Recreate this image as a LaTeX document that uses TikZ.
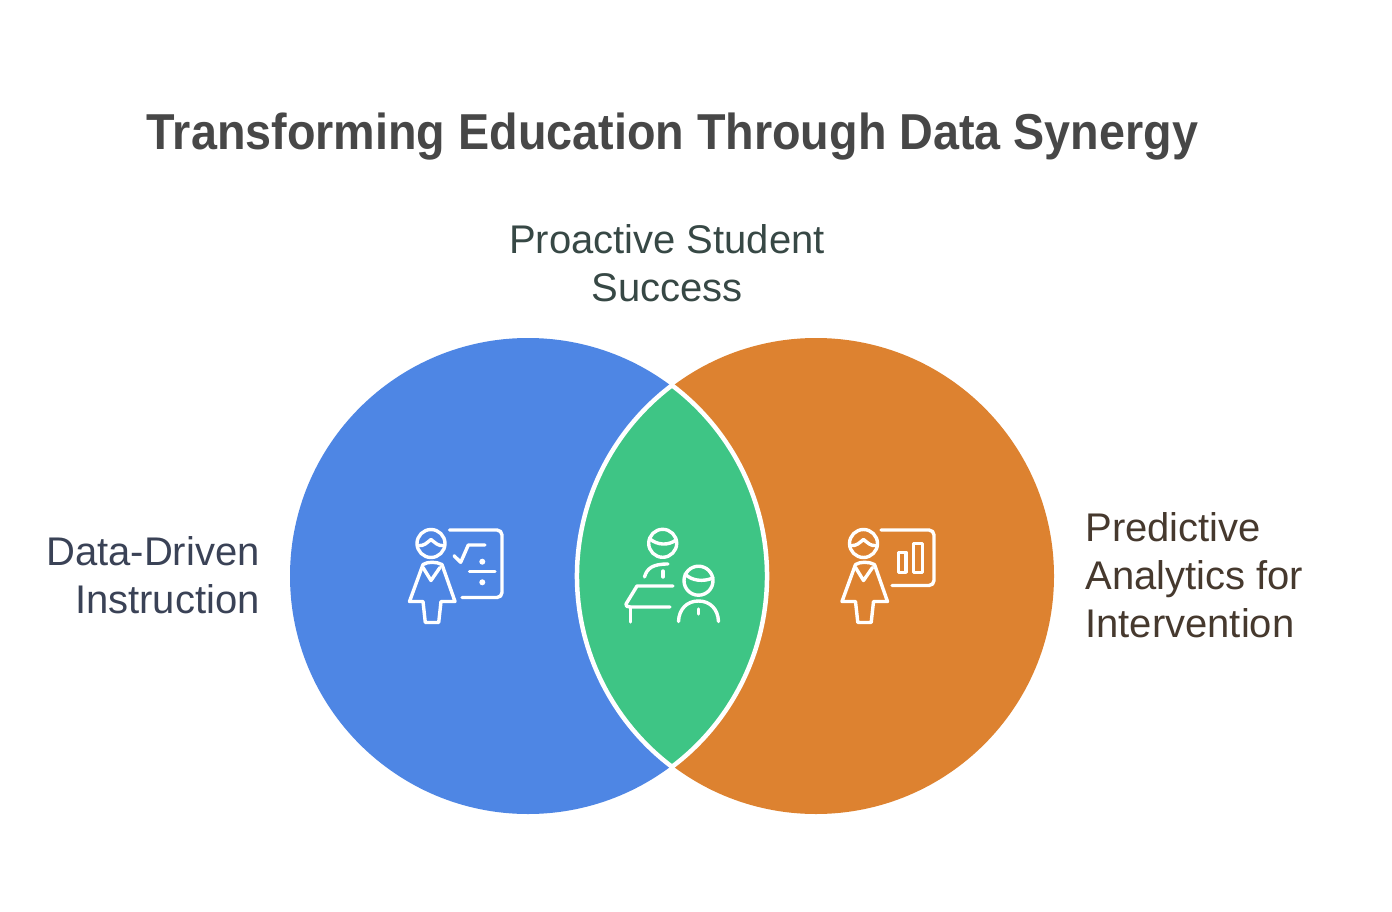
\documentclass[tikz,border=0pt]{standalone}
\usepackage{fontspec}
\setmainfont{Liberation Sans}
\newfontfamily\titlefont[FakeStretch=0.925]{Liberation Sans}
\usetikzlibrary{positioning}
\definecolor{blueset}{HTML}{4E86E4}
\definecolor{orangeset}{HTML}{DD8230}
\definecolor{greenset}{HTML}{3EC585}
\begin{document}
\begin{tikzpicture}[x=1pt, y=-1pt,
    setcircle/.style={circle, minimum size=476pt, inner sep=0pt},
    label/.style={font=\fontsize{40}{48}\selectfont, inner sep=0pt},
    icon/.style={draw=white, line width=3.4pt, line cap=round, line join=round},
    teacher/.pic={
        \draw[icon] (0,0) circle[radius=14];
        \draw[icon] (-13,2) .. controls (-7,3) and (-4,-1) .. (0,-4) .. controls (4,-1) and (7,3) .. (13,2);
        \draw[icon] (-8,21) -- (-21.5,58) -- (-8,58) -- (-5.7,79) -- (7.7,79) -- (10,58) -- (24,58) -- (11,21) .. controls (5,18) and (-3,18) .. cycle;
        \draw[icon] (-8,24) -- (0,37) -- (9,24);
    }
    ]
% \draw[help lines] (0,0) grid[step=100] (1392,912);
\useasboundingbox (0,0) rectangle (1392,912);
\node[setcircle, fill=blueset]   (dataCircle)      at (528,576) {};
\node[setcircle, fill=orangeset] (analyticsCircle) at (816,576) {};
\draw[fill=greenset, draw=white, line width=4.5pt, miter limit=10]
    (672,385.3) arc[start angle=232.96, end angle=127.04, radius=239]
    arc[start angle=52.96, end angle=-52.96, radius=239] -- cycle;

\node[font=\fontsize{50.5}{56}\titlefont\bfseries, text=black!72, inner sep=0pt, anchor=base] (title) at (672.5,150)
    {Transforming Education Through Data Synergy};
\node[label, align=center, text={rgb,255:red,55;green,72;blue,69}] (successLabel) at (667,263)
    {Proactive Student\\Success};
\node[label, align=right, text={rgb,255:red,58;green,66;blue,86}, left=30pt of dataCircle, yshift=1pt] (dataLabel)
    {Data-Driven\\Instruction};
\node[label, align=left, text={rgb,255:red,70;green,57;blue,46}, right=31pt of analyticsCircle, yshift=1pt] (analyticsLabel)
    {Predictive\\Analytics for\\Intervention};

% left icon
\pic at (431,543.5) {teacher};
\draw[icon, rounded corners=5pt] (449.5,530) -- (502,530) -- (502,597.5) -- (462,597.5);
\draw[icon] (454,555.7) -- (460.7,562.3) -- (468.3,545) -- (485,545);
\draw[icon] (469.5,571.7) -- (495,571.7);
\fill[white] (482.3,561.7) circle[radius=3];
\fill[white] (482.3,582.3) circle[radius=3];

% middle icon
\draw[icon] (662.7,543.3) circle[radius=14];
\draw[icon] (650,539) .. controls (657,545) and (668,546) .. (676,540);
\draw[icon] (644.5,577) .. controls (647,568) and (653,564) .. (668,564);
\draw[icon] (663,571) -- (663,577);
\draw[icon] (673,586) -- (637,586) -- (626,604) .. controls (625.5,606) and (627,607) .. (630,607) -- (670,607);
\draw[icon] (630.5,607) -- (630.5,622);
\draw[icon] (698.5,580.7) circle[radius=14.5];
\draw[icon] (685,574) .. controls (692,581) and (703,582) .. (713,578);
\draw[icon] (678.5,621.5) .. controls (679,609) and (687,601) .. (698.5,601) .. controls (710,601) and (718,609) .. (718.5,621.5);
\draw[icon] (698.5,609) -- (698.5,614);

% right icon
\pic at (863.5,543.5) {teacher};
\draw[icon, rounded corners=5pt] (881,530) -- (934,530) -- (934,585.5) -- (892,585.5);
\draw[icon] (898.3,552.3) rectangle (906,572.3);
\draw[icon] (913.3,543.3) rectangle (922.7,572.3);
\end{tikzpicture}
\end{document}
